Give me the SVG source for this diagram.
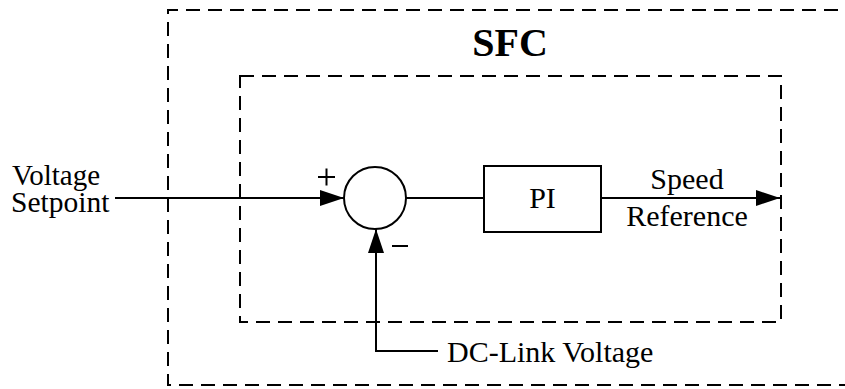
<svg xmlns="http://www.w3.org/2000/svg" width="845" height="389" viewBox="0 0 845 389">
  <defs>
    <style>
      .dash { fill: none; stroke: #000; stroke-width: 2; stroke-dasharray: 14 8; }
      .line { fill: none; stroke: #000; stroke-width: 2; }
      .shape { fill: #fff; stroke: #000; stroke-width: 2; }
      .lbl { font-family: "Liberation Serif", "Times New Roman", serif; font-size: 30px; fill: #000; }
      .title { font-family: "Liberation Serif", "Times New Roman", serif; font-size: 40px; font-weight: bold; fill: #000; }
    </style>
    <marker id="arr" viewBox="0 0 24 16" refX="24" refY="8" markerWidth="24" markerHeight="16" markerUnits="userSpaceOnUse" orient="auto">
      <path d="M0,0 L24,8 L0,16 Z" fill="#000"/>
    </marker>
  </defs>
  <rect width="845" height="389" fill="#fff"/>

  <g id="sfc-outer">
    <path class="dash" d="M860,10 L168,10 L168,385 L860,385"/>
    <text class="title" x="510" y="56" text-anchor="middle">SFC</text>
  </g>
  <g id="inner-box">
    <rect class="dash" x="240" y="76" width="541" height="246"/>
  </g>

  <g id="connectors">
    <line class="line" x1="115" y1="198" x2="344" y2="198" marker-end="url(#arr)"/>
    <line class="line" x1="406" y1="198" x2="484" y2="198"/>
    <line class="line" x1="601" y1="198" x2="780" y2="198" marker-end="url(#arr)"/>
    <path class="line" d="M438,351 L376,351 L376,229" marker-end="url(#arr)"/>
  </g>

  <g id="input-label">
    <text class="lbl" x="12" y="185" style="font-size:29px">Voltage</text>
    <text class="lbl" x="11" y="212" style="font-size:29.5px">Setpoint</text>
  </g>

  <g id="sum">
    <circle class="shape" cx="375" cy="198" r="31"/>
    <path class="line" d="M318,177 L335,177 M326.5,168.5 L326.5,185.5"/>
    <path class="line" d="M392,246 L408,246"/>
  </g>

  <g id="pi">
    <rect class="shape" x="484" y="166" width="117" height="66"/>
    <text class="lbl" x="542.5" y="208" text-anchor="middle">PI</text>
  </g>

  <g id="output-label">
    <text class="lbl" x="687" y="189" text-anchor="middle">Speed</text>
    <text class="lbl" x="687" y="226" text-anchor="middle">Reference</text>
  </g>

  <g id="feedback-label">
    <text class="lbl" x="447" y="362">DC-Link Voltage</text>
  </g>
</svg>
